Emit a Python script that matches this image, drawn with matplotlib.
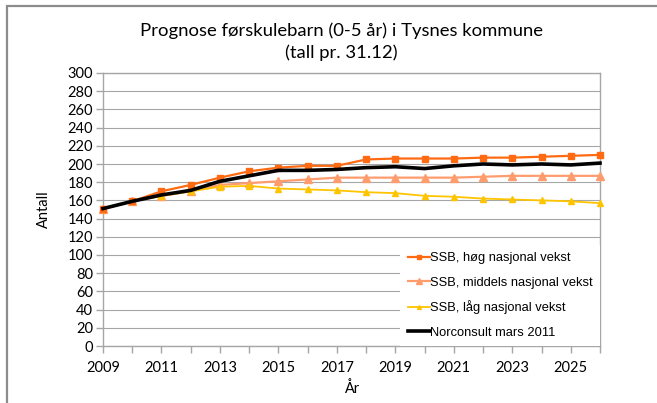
import matplotlib.pyplot as plt
import matplotlib.patches as mpatches
import numpy as np

years = np.arange(2009, 2027)

hog = [151, 159, 170, 177, 185, 192, 196, 198, 198, 205, 206, 206, 206, 207, 207, 208, 209, 210]
middels = [151, 159, 165, 170, 177, 179, 181, 183, 185, 185, 185, 185, 185, 186, 187, 187, 187, 187]
lag = [151, 159, 165, 170, 175, 176, 173, 172, 171, 169, 168, 165, 164, 162, 161, 160, 159, 157]
norconsult = [151, 159, 166, 171, 181, 187, 193, 193, 194, 196, 197, 195, 198, 200, 199, 200, 199, 201]

labels = ["SSB, høg nasjonal vekst", "SSB, middels nasjonal vekst",
          "SSB, låg nasjonal vekst", "Norconsult mars 2011"]
title = "Prognose førskulebarn (0-5 år) i Tysnes kommune\n(tall pr. 31.12)"

fig = plt.figure(figsize=(6.57, 4.03), dpi=100)
ax = fig.add_axes([103/657, 1 - 346/403, 497/657, 273/403])

# outer border (left and top visible only)
fig.patches.append(mpatches.Rectangle((7/657, -0.1), 1.2, 1 - 6/403 + 0.1,
                                      transform=fig.transFigure, fill=False,
                                      edgecolor='#8c8c8c', linewidth=1.6))

l1, = ax.plot(years, hog, color='#FF6A13', marker='s', markersize=4.5, lw=1.6, clip_on=False, zorder=4)
l2, = ax.plot(years, middels, color='#FF9C6E', marker='^', markersize=5.5, lw=1.6, clip_on=False, zorder=3)
l3, = ax.plot(years, lag, color='#FFC400', marker='^', markersize=4, lw=1.3, clip_on=False, zorder=3)
l4, = ax.plot(years, norconsult, color='black', lw=2.6, clip_on=False, zorder=5)

ax.set_xlim(2009, 2026)
ax.set_ylim(0, 300)
ax.set_yticks(np.arange(0, 301, 20))
ax.set_xticks(years, minor=True)
ax.set_xticks(np.arange(2009, 2026, 2))
ax.grid(axis='y', color='#a6a6a6', lw=0.8)
ax.set_axisbelow(True)

for s in ax.spines.values():
    s.set_color('#a6a6a6')
    s.set_linewidth(1.0)

ax.tick_params(axis='both', which='both', direction='out', color='#a6a6a6',
               length=5, width=1, labelsize=10.5, pad=2)
ax.tick_params(axis='x', which='both', pad=6)
for t in ax.get_xticklabels() + ax.get_yticklabels():
    t.set_fontfamily('Lato')

ax.set_ylabel("Antall", fontfamily='Lato', fontsize=10.5, labelpad=12)
ax.set_xlabel("År", fontfamily='Lato', fontsize=10.5, labelpad=4)

fig.text(0.52, 1 - 42/403, title, ha='center', va='center', fontfamily='Lato',
         fontsize=13.3, linespacing=1.4)

leg = ax.legend([l1, l2, l3, l4], labels, loc='lower right', bbox_to_anchor=(1.0, 0.0),
                frameon=True, fancybox=False, edgecolor='none', facecolor='white',
                framealpha=1, handlelength=1.7, handletextpad=0.0, labelspacing=0.93,
                borderpad=0.58, borderaxespad=0.0, markerscale=0.7,
                prop={'family': 'Liberation Sans', 'size': 9.3})

fig.savefig("out.png", dpi=100)
